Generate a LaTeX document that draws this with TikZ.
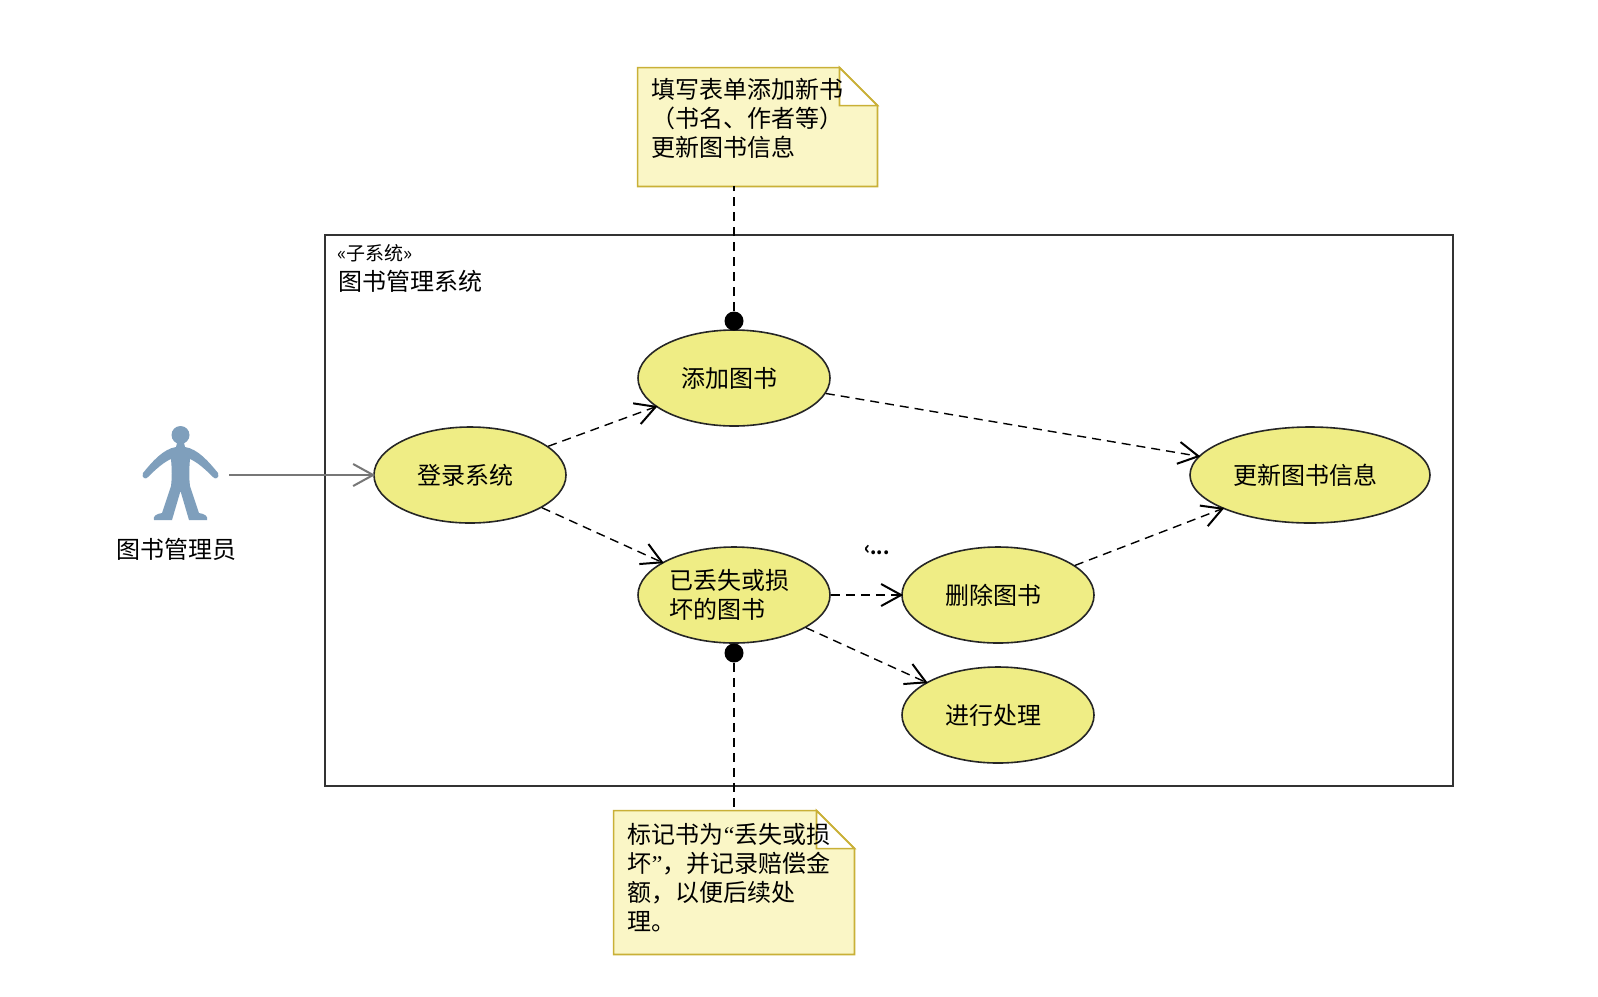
\documentclass[tikz,border=0pt]{standalone}
\usepackage{fontspec}
\usepackage{xcolor}
\usepackage{tikz}
\usetikzlibrary{arrows.meta,shapes.geometric}
\setmainfont{Noto Sans CJK SC}
\newfontfamily\quotefont{Liberation Serif}
\definecolor{casefill}{HTML}{EFED85}
\definecolor{notefill}{HTML}{FAF6C6}
\definecolor{noteline}{HTML}{C9B037}
\definecolor{actorblue}{HTML}{7F9FBC}
\definecolor{framegray}{HTML}{333333}
\definecolor{arrowgray}{HTML}{777777}
\tikzset{
  usecase/.style={ellipse, draw=black!85, fill=casefill, line width=.8pt, inner sep=0pt,
    minimum width=96pt, minimum height=48pt, align=left, font=\fontsize{12pt}{14.5pt}\selectfont},
  bigcase/.style={usecase, minimum width=120pt},
  tag/.style={inner sep=0pt, align=left, font=\fontsize{12pt}{14.5pt}\selectfont},
  notebox/.style={inner sep=0pt},
  notedot/.style={circle, fill=black, inner sep=0pt, minimum size=9.5pt},
  openhead/.style={-{Straight Barb[length=10pt,width=11pt,line width=1pt]}, shorten >=-1pt},
  includes/.style={openhead, draw=black, line width=.7pt, dash pattern=on 4.5pt off 3pt},
  anchorline/.style={draw=black, line width=.7pt, dash pattern=on 4.5pt off 3pt}
}
\newcommand{\tailgap}{\hspace*{5pt}}
\newcommand{\notebody}[1]{
  \draw[fill=notefill, draw=noteline, line width=.85pt] (#1.north west)
    -- ([xshift=-19pt]#1.north east) -- ([yshift=-19pt]#1.north east)
    -- (#1.south east) -- (#1.south west) -- cycle;
  \draw[fill=white, draw=noteline, line width=.85pt] ([xshift=-19pt]#1.north east)
    -- ([yshift=-19pt]#1.north east) -- ([xshift=-19pt,yshift=-19pt]#1.north east) -- cycle;
}
\begin{document}
\begin{tikzpicture}[x=.5pt, y=-.5pt]
  \useasboundingbox (0,0) rectangle (1598,996);
  \fill[white] (0,0) rectangle (1598,996);

  % subsystem frame
  \node[draw=framegray, line width=.8pt, inner sep=0pt, minimum width=564pt, minimum height=275.5pt] (frame) at (889,510.5) {};
  \node[tag, anchor=west, font=\fontsize{9.5pt}{11pt}\selectfont] (stereo) at (337,253) {«子系统»};
  \node[tag, anchor=west] (frametitle) at (338,281) {图书管理系统};

  % use cases
  \node[usecase] (login) at (470,475) {登录系统\tailgap};
  \node[usecase] (addbook) at (734,378) {添加图书\tailgap};
  \node[usecase] (lostbook) at (734,595) {已丢失或损\tailgap\\坏的图书};
  \node[usecase] (delbook) at (998,595) {删除图书\tailgap};
  \node[usecase] (handle) at (998,715) {进行处理\tailgap};
  \node[bigcase] (update) at (1310,475) {更新图书信息\tailgap};
  \node[tag, font=\bfseries\fontsize{9pt}{11pt}\selectfont] (cutoff) at (877,550) {‹...};

  % actor
  \fill[actorblue] (180.5,435) circle (9);
  \fill[actorblue, line join=round] (177,443) -- (184,443) -- (185,447)
    .. controls (198,449) and (209,462) .. (218,473)
    .. controls (220,478) and (215,480) .. (213,477)
    .. controls (205,469) and (197,462) .. (190,459)
    .. controls (189,470) and (189,478) .. (190,486)
    -- (199,513) .. controls (205,514) and (208,516) .. (207,520)
    -- (189,520) -- (180.5,491) -- (172,520) -- (154,520)
    .. controls (153,516) and (156,514) .. (162,513)
    -- (171,486) .. controls (172,478) and (172,470) .. (171,459)
    .. controls (164,462) and (156,469) .. (148,477)
    .. controls (146,480) and (141,478) .. (143,473)
    .. controls (152,462) and (163,449) .. (176,447) -- cycle;
  \coordinate (actorhand) at (229,475);
  \node[tag] (actorname) at (176,549) {图书管理员};

  % notes
  \node[notebox, minimum width=119.5pt, minimum height=59pt] (noteadd) at (757.5,127) {};
  \notebody{noteadd}
  \node[tag, anchor=north west] (noteaddtext) at (651.5,78) {填写表单添加新书\\（书名、作者等）\\更新图书信息};
  \node[notebox, minimum width=120pt, minimum height=71.5pt] (notelost) at (734,882.5) {};
  \notebody{notelost}
  \node[tag, anchor=north west] (notelosttext) at (627.5,823) {标记书为{\quotefont “}丢失或损\\坏{\quotefont ”}，并记录赔偿金\\额，以便后续处\\理。};

  \node[notedot] (dotadd) at (734,321) {};
  \node[notedot] (dotlost) at (734,653) {};

  % connectors
  \draw[openhead, draw=arrowgray, line width=.7pt] (actorhand) -- (login);
  \draw[includes] (login) -- (addbook);
  \draw[includes] (login) -- (lostbook);
  \draw[includes] (addbook) -- (update);
  \draw[includes] (lostbook) -- (delbook);
  \draw[includes] (lostbook) -- (handle);
  \draw[includes] (delbook) -- (update);
  \draw[anchorline] (dotadd) -- (dotadd |- noteadd.south);
  \draw[anchorline] (dotlost) -- (dotlost |- notelost.north);
\end{tikzpicture}
\end{document}
